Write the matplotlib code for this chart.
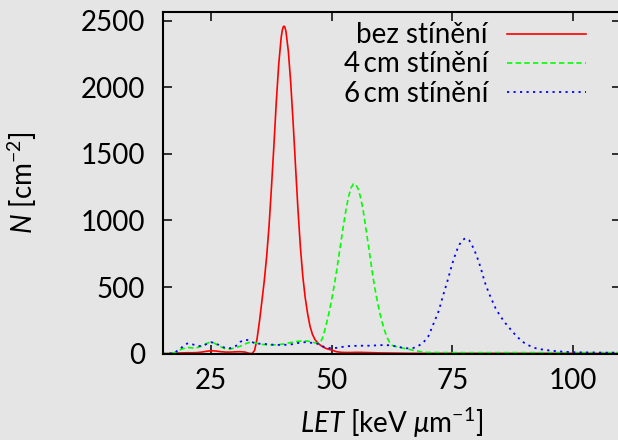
import matplotlib
matplotlib.use('Agg')
import matplotlib.pyplot as plt
from matplotlib.lines import Line2D

FONT = 'Lato'
plt.rcParams['font.family'] = [FONT, 'DejaVu Sans']
plt.rcParams['font.weight'] = 'normal'
plt.rcParams['mathtext.fontset'] = 'custom'
plt.rcParams['mathtext.rm'] = FONT
plt.rcParams['mathtext.it'] = FONT + ':italic'
plt.rcParams['mathtext.bf'] = FONT + ':bold'
plt.rcParams['mathtext.sf'] = FONT

# ---------------- data ----------------
labels = ['bez stínění', '4\u2009cm stínění', '6\u2009cm stínění']

red_x = [15, 16, 17, 18, 19, 20, 21, 22, 23, 24, 25, 26, 27, 28, 29, 30, 31, 32, 32.5, 33, 33.5,
         34, 34.5, 35, 35.5, 36, 36.5, 37, 37.5, 38, 38.5, 39, 39.5, 39.75, 40, 40.25, 40.5, 41,
         41.5, 42, 42.5, 43, 43.5, 44, 44.5, 45, 45.5, 46, 46.5, 47, 47.5, 48, 48.5, 49, 49.5, 50,
         51, 52, 53, 54, 55, 56, 57, 58, 59, 60, 62, 64, 66, 70, 75, 80, 85, 90, 95, 100, 105, 110]
red_y = [0, 1, 3, 5, 6, 7, 7, 8, 12, 18, 22, 20, 15, 12, 12, 14, 15, 12, 7, 2, 2,
         25, 110, 240, 390, 545, 730, 960, 1250, 1560, 1890, 2170, 2370, 2430, 2458, 2455, 2420, 2270,
         2030, 1730, 1400, 1080, 800, 580, 420, 300, 205, 145, 108, 85, 68, 55, 45, 37, 32, 27,
         15, 10, 9, 9, 10, 10, 9, 8, 7, 6, 5, 4, 3, 3, 3, 3, 3, 3, 3, 3, 2, 2]

green_x = [15, 16, 17, 17.5, 18, 18.5, 19, 19.5, 20, 20.5, 21, 21.5, 22, 22.5, 23, 23.5, 24, 24.5,
           25, 25.5, 26, 26.5, 27, 27.5, 28, 28.5, 29, 29.5, 30, 30.5, 31, 31.5, 32, 32.5, 33, 33.5,
           34, 34.5, 35, 35.5, 36, 37, 38, 39, 40, 41, 42, 43, 44, 45, 45.5, 46, 46.5, 47, 47.5,
           48, 48.5, 49, 49.5, 50, 50.5, 51, 51.5, 52, 52.5, 53, 53.5, 54, 54.5, 55, 55.5, 56, 56.5,
           57, 57.5, 58, 58.5, 59, 59.5, 60, 60.5, 61, 61.5, 62, 62.5, 63, 64, 65, 66, 67, 68, 69,
           70, 75, 80, 85, 90, 95, 100, 105, 110]
green_y = [0, 2, 6, 10, 18, 28, 36, 42, 46, 46, 43, 42, 45, 50, 57, 66, 76, 83,
           86, 82, 72, 62, 52, 43, 36, 33, 35, 40, 45, 50, 56, 63, 72, 80, 85, 86,
           82, 78, 74, 70, 68, 66, 66, 68, 73, 80, 87, 93, 96, 95, 91, 87, 82, 78, 80,
           110, 170, 240, 320, 410, 510, 620, 740, 860, 980, 1090, 1180, 1245, 1275, 1270, 1235, 1170, 1080,
           960, 840, 715, 590, 480, 385, 300, 230, 170, 120, 85, 65, 55, 50, 40, 33, 25, 18, 12,
           9, 8, 8, 8, 8, 8, 8, 8, 8]

blue_x = [15, 16, 17, 17.5, 18, 18.5, 19, 19.5, 20, 20.5, 21, 21.5, 22, 22.5, 23, 23.5, 24, 24.5,
          25, 25.5, 26, 26.5, 27, 27.5, 28, 28.5, 29, 29.5, 30, 30.5, 31, 31.5, 32, 32.5, 33, 33.5,
          34, 35, 36, 37, 38, 39, 40, 41, 42, 43, 44, 44.5, 45, 46, 47, 47.5, 48, 48.5, 49, 50,
          51, 52, 53, 54, 55, 56, 57, 58, 59, 60, 61, 62, 63, 64, 65, 66, 67, 67.5, 68, 68.5, 69,
          69.5, 70, 70.5, 71, 71.5, 72, 72.5, 73, 73.5, 74, 74.5, 75, 75.5, 76, 76.5, 77, 77.5, 78,
          78.5, 79, 79.5, 80, 80.5, 81, 81.5, 82, 82.5, 83, 83.5, 84, 84.5, 85, 85.5, 86, 86.5, 87,
          87.5, 88, 88.5, 89, 89.5, 90, 90.5, 91, 91.5, 92, 92.5, 93, 94, 95, 96, 97, 98, 99, 100,
          102, 104, 106, 108, 110]
blue_y = [0, 1, 4, 10, 22, 35, 50, 66, 76, 78, 72, 66, 61, 58, 58, 62, 72, 82,
          86, 82, 74, 67, 58, 49, 42, 40, 42, 47, 55, 70, 88, 98, 102, 103, 98, 88,
          78, 75, 73, 70, 67, 66, 66, 68, 72, 80, 86, 86, 85, 81, 75, 68, 58, 50, 45, 40,
          44, 50, 55, 58, 59, 60, 60, 60, 62, 64, 65, 63, 58, 50, 42, 40, 44, 50, 60, 70, 85,
          105, 128, 170, 216, 260, 300, 360, 425, 485, 545, 610, 675, 730, 780, 820, 848, 862, 865,
          852, 820, 785, 740, 690, 632, 568, 510, 465, 420, 380, 340, 310, 280, 255, 230, 208, 185,
          165, 145, 128, 108, 92, 80, 70, 60, 53, 45, 39, 35, 30, 25, 21, 18, 15, 13, 11,
          10, 9, 8, 8, 8]

x_ticks = [25, 50, 75, 100]
y_ticks = [0, 500, 1000, 1500, 2000, 2500]

# ---------------- figure ----------------
W, H = 618, 440
bg = '#e5e5e5'
fig = plt.figure(figsize=(W / 100, H / 100), dpi=100, facecolor=bg)
ax = fig.add_axes([163 / W, 1 - 353.7 / H, (621 - 163) / W, (353.7 - 12) / H])
ax.set_facecolor(bg)

styles = [
    dict(color='#ff0000', lw=1.2, linestyle='-'),
    dict(color='#00ff00', lw=1.2, linestyle=(0, (3.2, 2.0))),
    dict(color='#0000ff', lw=1.3, linestyle=(0, (1.2, 2.4))),
]
series = [(red_x, red_y), (green_x, green_y), (blue_x, blue_y)]
for (xs, ys), st in zip(series, styles):
    ax.plot(xs, ys, **st)

ax.set_xlim(15, 110)
ax.set_ylim(0, 2565)
ax.set_xticks(x_ticks)
ax.set_yticks(y_ticks)
ax.tick_params(direction='in', length=6.2, width=1.1, top=True, right=True,
               labelsize=20, colors='black')
ax.tick_params(axis='y', pad=13)
ax.tick_params(axis='x', pad=10)
for sp in ax.spines.values():
    sp.set_linewidth(1.5)

# legend (gnuplot style: right aligned text, sample on right)
text_right = (488 - 163) / 458
line_x0 = (506.7 - 163) / 458
line_x1 = (585.7 - 163) / 458
baselines = [43.3, 72.5, 101.5]
for lab, st, bl in zip(labels, styles, baselines):
    yb = (353.7 - bl) / 341.7
    yl = (353.7 - (bl - 9)) / 341.7
    ax.text(text_right, yb, lab, transform=ax.transAxes, ha='right', va='baseline',
            fontsize=20)
    ax.add_line(Line2D([line_x0, line_x1], [yl, yl], transform=ax.transAxes, **st))

fig.text(392 / W, 1 - 433 / H, r'$LET$ [keV $\mu$m$^{-1}$]', ha='center', va='baseline',
         fontsize=20)
fig.text(22 / W, 1 - 183 / H, r'$N$ [cm$^{-2}$]', ha='center', va='center',
         rotation=90, fontsize=20)

fig.savefig('out.png', dpi=100, facecolor=bg)
